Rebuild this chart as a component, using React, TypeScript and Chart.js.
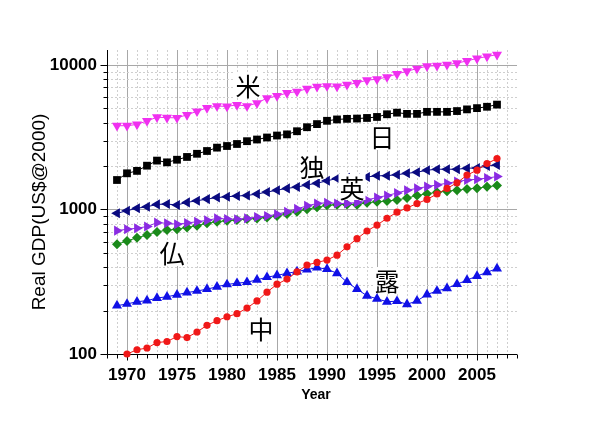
import React, { useEffect, useRef } from 'react';
import { Chart, registerables } from 'chart.js';

Chart.register(...registerables);

// ---- data (billions US$ at 2000 prices) ----
const years = [
  1969, 1970, 1971, 1972, 1973, 1974, 1975, 1976, 1977, 1978,
  1979, 1980, 1981, 1982, 1983, 1984, 1985, 1986, 1987, 1988,
  1989, 1990, 1991, 1992, 1993, 1994, 1995, 1996, 1997, 1998,
  1999, 2000, 2001, 2002, 2003, 2004, 2005, 2006, 2007,
];

const usa = [
  3800, 3800, 3880, 4100, 4350, 4320, 4310, 4520, 4780, 5050,
  5200, 5170, 5300, 5200, 5450, 5900, 6100, 6400, 6550, 6850,
  7080, 7150, 7100, 7300, 7520, 7850, 7980, 8250, 8680, 9050,
  9450, 9820, 9880, 10050, 10300, 10680, 11100, 11450, 11800,
];

const japan = [
  1600, 1780, 1850, 2010, 2180, 2120, 2210, 2310, 2430, 2540,
  2680, 2750, 2840, 2970, 3050, 3150, 3250, 3310, 3480, 3710,
  3900, 4110, 4200, 4240, 4260, 4300, 4370, 4560, 4680, 4590,
  4590, 4740, 4740, 4740, 4800, 4930, 5030, 5140, 5320,
];

const germany = [
  941, 981, 1020, 1045, 1085, 1090, 1075, 1120, 1150, 1180,
  1210, 1225, 1240, 1250, 1280, 1320, 1360, 1400, 1430, 1480,
  1520, 1580, 1640, 1660, 1640, 1680, 1710, 1715, 1740, 1780,
  1810, 1870, 1900, 1900, 1900, 1930, 1940, 2000, 2030,
];

const uk = [
  714, 730, 742, 762, 811, 803, 790, 807, 823, 841,
  868, 859, 855, 868, 887, 901, 927, 965, 1010, 1060,
  1100, 1115, 1100, 1100, 1120, 1165, 1210, 1250, 1300, 1360,
  1400, 1440, 1480, 1520, 1560, 1600, 1620, 1650, 1690,
];

const france = [
  574, 606, 637, 665, 700, 720, 730, 752, 773, 803,
  823, 836, 845, 859, 868, 882, 901, 930, 966, 1003,
  1035, 1070, 1080, 1085, 1080, 1115, 1130, 1145, 1165, 1200,
  1250, 1285, 1315, 1340, 1360, 1385, 1405, 1435, 1465,
];

const china = [
  null, 100, 107, 110, 120, 122, 132, 130, 142, 158,
  170, 181, 190, 208, 233, 268, 304, 330, 370, 413,
  430, 447, 483, 552, 628, 710, 780, 870, 958, 1025,
  1100, 1175, 1280, 1400, 1530, 1730, 1870, 2080, 2250,
];

const russia = [
  216, 222, 230, 234, 244, 249, 257, 266, 273, 281,
  292, 303, 309, 314, 326, 340, 350, 362, 372, 384,
  396, 387, 362, 314, 281, 253, 241, 230, 232, 221,
  233, 258, 273, 285, 304, 325, 346, 368, 390,
];

const xMajorTicks = [1970, 1975, 1980, 1985, 1990, 1995, 2000, 2005];
const yMajorTicks = [100, 1000, 10000];

const seriesLabels = [
  { text: '米', year: 1982.1, value: 7270 },
  { text: '日', year: 1995.5, value: 3176 },
  { text: '独', year: 1988.5, value: 2000 },
  { text: '英', year: 1992.5, value: 1431 },
  { text: '仏', year: 1974.5, value: 500 },
  { text: '中', year: 1983.4, value: 151 },
  { text: '露', year: 1996.0, value: 325 },
];

const X_MIN = 1968;
const X_MAX = 2009;
const Y_MIN = 100;
const Y_MAX = 12700;

const toPoints = (vals: (number | null)[]) =>
  years
    .map((yr, i) => ({ x: yr, y: vals[i] }))
    .filter((p) => p.y !== null) as { x: number; y: number }[];

const FONT = '"Liberation Sans", Arial, sans-serif';

const customAxes = {
  id: 'customAxes',
  beforeDatasetsDraw(chart: any) {
    const { ctx, chartArea } = chart;
    const { left, right, top, bottom } = chartArea;
    const xs = chart.scales.x;
    const ys = chart.scales.y;
    ctx.save();
    ctx.lineWidth = 1;
    // vertical grid
    for (let yr = X_MIN + 1; yr < X_MAX; yr++) {
      const px = Math.round(xs.getPixelForValue(yr)) + 0.5;
      ctx.beginPath();
      if (yr % 5 === 0) {
        ctx.setLineDash([]);
        ctx.strokeStyle = '#a8a8a8';
      } else {
        ctx.setLineDash([2, 2]);
        ctx.strokeStyle = '#cfcfcf';
      }
      ctx.moveTo(px, top);
      ctx.lineTo(px, bottom);
      ctx.stroke();
    }
    // horizontal grid
    for (let dec = 100; dec <= 10000; dec *= 10) {
      for (let m = 1; m <= 9; m++) {
        const v = dec * m;
        if (v <= Y_MIN || v > 10000) continue;
        const py = Math.round(ys.getPixelForValue(v)) + 0.5;
        ctx.beginPath();
        if (m === 1) {
          ctx.setLineDash([]);
          ctx.strokeStyle = '#a8a8a8';
        } else {
          ctx.setLineDash([2, 2]);
          ctx.strokeStyle = '#cfcfcf';
        }
        ctx.moveTo(left, py);
        ctx.lineTo(right, py);
        ctx.stroke();
      }
    }
    ctx.setLineDash([]);
    ctx.strokeStyle = '#000';
    // axis lines
    const ax = Math.round(left) + 0.5;
    const ay = Math.round(bottom) + 0.5;
    ctx.beginPath();
    ctx.moveTo(ax, top);
    ctx.lineTo(ax, ay);
    ctx.lineTo(right, ay);
    ctx.stroke();
    // x tick marks
    for (let yr = X_MIN; yr <= X_MAX; yr++) {
      const px = Math.round(xs.getPixelForValue(yr)) + 0.5;
      const len = yr % 5 === 0 ? 6 : 4;
      ctx.beginPath();
      ctx.moveTo(px, ay);
      ctx.lineTo(px, ay + len);
      ctx.stroke();
    }
    // y tick marks
    for (let dec = 100; dec <= 10000; dec *= 10) {
      for (let m = 1; m <= 9; m++) {
        const v = dec * m;
        if (v > 10000) continue;
        const py = Math.round(ys.getPixelForValue(v)) + 0.5;
        const len = m === 1 ? 7 : 4;
        ctx.beginPath();
        ctx.moveTo(ax - len, py);
        ctx.lineTo(ax, py);
        ctx.stroke();
      }
    }
    // axis titles
    ctx.fillStyle = '#000';
    ctx.textAlign = 'center';
    ctx.textBaseline = 'middle';
    ctx.font = `bold 14px ${FONT}`;
    ctx.fillText('Year', 316, 395);
    ctx.save();
    ctx.translate(40, 212);
    ctx.rotate(-Math.PI / 2);
    ctx.font = `19px ${FONT}`;
    ctx.fillText('Real GDP(US$@2000)', 0, 0);
    ctx.restore();
    ctx.restore();
  },
  afterDatasetsDraw(chart: any) {
    const { ctx } = chart;
    const xs = chart.scales.x;
    const ys = chart.scales.y;
    ctx.save();
    ctx.font = '25px "Noto Sans CJK JP", sans-serif';
    ctx.textAlign = 'center';
    ctx.textBaseline = 'middle';
    for (const l of seriesLabels) {
      const px = xs.getPixelForValue(l.year);
      const py = ys.getPixelForValue(l.value);
      const w = ctx.measureText(l.text).width;
      ctx.fillStyle = '#fff';
      ctx.fillRect(px - w / 2 - 1, py - 13, w + 2, 26);
      ctx.fillStyle = '#000';
      ctx.fillText(l.text, px, py + 1);
    }
    ctx.restore();
  },
};

function makeSet(label: string, vals: (number | null)[], color: string, style: string, radius: number, rotation = 0) {
  return {
    label,
    data: toPoints(vals),
    borderColor: color,
    backgroundColor: color,
    borderWidth: 1,
    pointStyle: style,
    pointRadius: radius,
    pointRotation: rotation,
    pointBorderWidth: 0,
    pointBackgroundColor: color,
    clip: false as any,
    tension: 0,
  };
}

export default function App() {
  const ref = useRef<HTMLCanvasElement | null>(null);
  useEffect(() => {
    if (!ref.current) return;
    const chart = new Chart(ref.current, {
      type: 'line',
      data: {
        datasets: [
          makeSet('China', china, '#f01818', 'circle', 3.6),
          makeSet('USA', usa, '#f030f0', 'triangle', 5.8, 180),
          makeSet('Japan', japan, '#000000', 'rect', 5.5),
          makeSet('Germany', germany, '#0a0a80', 'triangle', 5.8, 270),
          makeSet('UK', uk, '#8a2be2', 'triangle', 5.8, 90),
          makeSet('France', france, '#1a8a1a', 'rectRot', 5),
          makeSet('Russia', russia, '#1010e6', 'triangle', 5.8),
        ] as any,
      },
      options: {
        animation: false,
        responsive: false,
        devicePixelRatio: 1,
        layout: { padding: { left: 0, top: 50, right: 83, bottom: 0 } },
        plugins: { legend: { display: false }, tooltip: { enabled: false } },
        scales: {
          x: {
            type: 'linear',
            min: X_MIN,
            max: X_MAX,
            bounds: 'data',
            grid: { display: false, drawTicks: true, tickLength: 6 },
            border: { display: false },
            ticks: {
              color: '#000',
              font: { family: FONT, size: 17, weight: 'bold' },
              padding: 5,
              maxRotation: 0,
              autoSkip: false,
              callback: (v: any) => String(v),
            },
            afterBuildTicks: (s: any) => {
              s.ticks = xMajorTicks.map((v) => ({ value: v }));
            },
            afterFit: (s: any) => {
              s.height = 71;
            },
          },
          y: {
            type: 'logarithmic',
            min: Y_MIN,
            max: Y_MAX,
            bounds: 'data',
            grid: { display: false, drawTicks: true, tickLength: 7 },
            border: { display: false },
            ticks: {
              color: '#000',
              font: { family: FONT, size: 17, weight: 'bold' },
              padding: 3,
              autoSkip: false,
              callback: (v: any) => String(v),
            },
            afterBuildTicks: (s: any) => {
              s.ticks = yMajorTicks.map((v) => ({ value: v, major: true }));
            },
            afterFit: (s: any) => {
              s.width = 107;
            },
          },
        },
      } as any,
      plugins: [customAxes],
    });
    return () => chart.destroy();
  }, []);
  return (
    <div style={{ position: 'fixed', left: 0, top: 0, width: 600, height: 425, background: '#fff' }}>
      <canvas ref={ref} width={600} height={425} style={{ width: 600, height: 425, display: 'block' }} />
    </div>
  );
}
